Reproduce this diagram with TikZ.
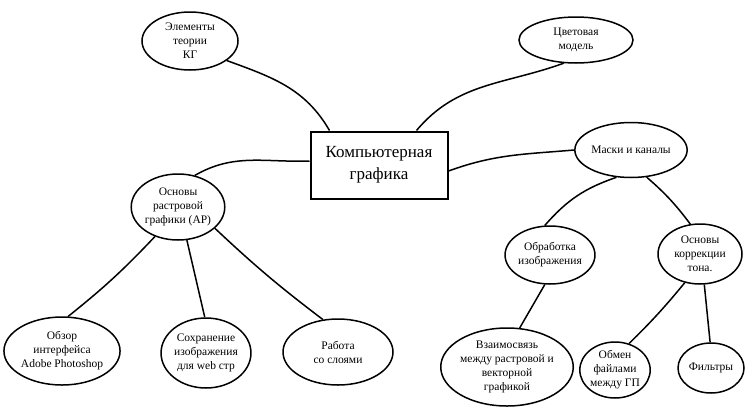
\documentclass[tikz,border=0pt]{standalone}
\usepackage{fontspec}
\setmainfont{Liberation Serif}
\usetikzlibrary{shapes.geometric,calc}
\begin{document}
\begin{tikzpicture}[x=1pt,y=-1pt,
  el/.style={draw,ellipse,line width=1.5pt,inner sep=0pt,align=center,font=\fontsize{11.5}{14}\selectfont},
  link/.style={line width=1.5pt},
  bigbox/.style={draw,rectangle,line width=2pt,minimum width=137pt,minimum height=67pt,align=center,font=\fontsize{17}{22}\selectfont}]
\useasboundingbox (0,0) rectangle (749,410);
\tikzset{ell/.code args={#1/#2}{\pgfkeysalso{minimum width=#1pt,minimum height=#2pt}}}
\node[bigbox] (kg) at (379,165) {Компьютерная\\графика};
\node[el,ell=96/58] (elem) at (190,41) {Элементы\\теории\\КГ};
\node[el,ell=114/46] (cm) at (576,40) {Цветовая\\модель};
\node[el,ell=112/55] (mask) at (631,150) {Маски и каналы};
\node[el,ell=92/66] (osn) at (178,207) {Основы\\растровой\\графики (АР)};
\node[el,ell=80/58] (obr) at (550,255) {Обработка\\изображения};
\node[el,ell=84/60] (korr) at (700,254) {Основы\\коррекции\\тона.};
\node[el,ell=110/68] (obz) at (62,351) {Обзор\\интерфейса\\Adobe Photoshop};
\node[el,ell=84/70] (sohr) at (206,353) {Сохранение\\изображения\\для web стр};
\node[el,ell=110/66] (rab) at (338,352) {Работа\\со слоями};
\node[el,ell=124/78] (vz) at (507,367) {Взаимосвязь\\между растровой и\\векторной\\графикой};
\node[el,ell=66/56] (obm) at (615,370) {Обмен\\файлами\\между ГП};
\node[el,ell=66/50] (filt) at (711,368) {Фильтры};
\coordinate (kgA) at ($(kg.north west)+(20,0)$);
\coordinate (kgB) at ($(kg.north east)+(-32,0)$);
\coordinate (kgL) at ($(kg.west)+(0,-4)$);
\coordinate (kgR) at ($(kg.east)+(0,6)$);
\draw[link] (elem.-28) to[out=-20,in=120] (kgA);
\draw[link] (cm.-118) to[out=200,in=50] (kgB);
\draw[link] (kgL) to[out=182,in=30] (osn.62);
\draw[link] (kgR) to[out=20,in=185] (mask.west);
\draw[link] (osn.-128) to[bend left=4] (obz.80);
\draw[link] (osn.-75) -- (sohr.92);
\draw[link] (osn.-30) to[bend right=3] (rab.115);
\draw[link] (mask.-118) to[bend right=15] (obr.100);
\draw[link] (mask.-60) to[bend left=6] (korr.108);
\draw[link] (obr.-100) -- (vz.72);
\draw[link] (korr.-118) to[bend left=3] (obm.62);
\draw[link] (korr.-82) -- (filt.92);
\end{tikzpicture}
\end{document}
